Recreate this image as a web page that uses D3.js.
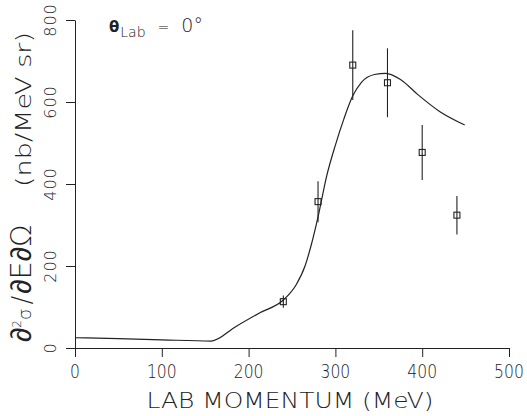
<!DOCTYPE html>
<html>
<head>
<meta charset="utf-8">
<script src="https://cdn.jsdelivr.net/npm/d3@7"></script>
<style>
  body { margin: 0; background: #fff; }
  svg { display: block; }
  text { font-family: "DejaVu Sans", sans-serif; font-weight: 200; fill: #222; }
</style>
</head>
<body>
<div id="chart"></div>
<script>
// measured points (lab momentum, cross section, error)
const momentum = [240, 280, 320, 360, 400, 440];
const xsec = [113, 357, 690, 647, 477, 324];
const xsecErr = [15, 50, 85, 84, 67, 47];

// theory curve
const curveP = [0, 50, 100, 157, 185, 213, 240, 255, 265, 272, 280, 290, 300, 310, 320, 330, 345, 358, 375, 395, 420, 449];
const curveV = [25, 23, 20, 17, 52, 86, 117, 155, 200, 250, 320, 420, 495, 560, 615, 648, 667, 670, 655, 618, 577, 544];

const xTicks = [0, 100, 200, 300, 400, 500];
const yTicks = [0, 200, 400, 600, 800];

const width = 527, height = 416;
const margin = ({top: 20, right: 18, bottom: 68, left: 75});
const ink = "#222";

const x = d3.scaleLinear()
    .domain([0, 500])
    .range([margin.left, width - margin.right]);

const y = d3.scaleLinear()
    .domain([0, 800])
    .range([height - margin.bottom, margin.top]);

const svg = d3.select("#chart").append("svg")
    .attr("width", width)
    .attr("height", height);

// x axis
const gx = svg.append("g")
    .attr("transform", `translate(0,${y(0)})`)
    .call(d3.axisBottom(x).tickValues(xTicks).tickSize(9).tickSizeOuter(0).tickFormat(""));
gx.selectAll("path, line").attr("stroke", ink);

// y axis
const gy = svg.append("g")
    .attr("transform", `translate(${x(0)},0)`)
    .call(d3.axisLeft(y).tickValues(yTicks).tickSize(9).tickSizeOuter(0).tickFormat(""));
gy.selectAll("path, line").attr("stroke", ink);

// tick labels
svg.append("g").selectAll("text")
    .data(xTicks)
    .join("text")
    .attr("x", d => x(d))
    .attr("y", y(0) + 30)
    .attr("text-anchor", "middle")
    .attr("font-size", 20)
    .attr("transform", d => `translate(${x(d)},0) scale(0.78,1) translate(${-x(d)},0)`)
    .text(d => d);

svg.append("g").selectAll("text")
    .data(yTicks)
    .join("text")
    .attr("transform", d => `translate(${x(0) - 19},${y(d)}) rotate(-90) scale(1,0.95)`)
    .attr("text-anchor", "middle")
    .attr("font-size", 16)
    .attr("letter-spacing", 1)
    .text(d => d);

// axis titles
svg.append("text")
    .attr("x", 290)
    .attr("y", 408)
    .attr("text-anchor", "middle")
    .attr("font-size", 22)
    .attr("textLength", 287)
    .attr("lengthAdjust", "spacingAndGlyphs")
    .text("LAB MOMENTUM  (MeV)");

const yl = svg.append("text")
    .attr("transform", "translate(31,342) rotate(-90)")
    .attr("text-anchor", "start");
yl.append("tspan").attr("font-size", 29).text("∂");
yl.append("tspan").attr("font-size", 12).attr("dy", -10).text("2");
yl.append("tspan").attr("font-size", 18).attr("dy", 10).text("σ");
yl.append("tspan").attr("font-size", 26).attr("dx", 4).text("/");
yl.append("tspan").attr("font-size", 29).attr("dx", 2).text("∂E∂Ω");

svg.append("text")
    .attr("transform", "translate(31,187) rotate(-90)")
    .attr("font-size", 21)
    .attr("textLength", 155)
    .attr("lengthAdjust", "spacingAndGlyphs")
    .text("(nb/MeV sr)");

// angle annotation
const t = svg.append("text")
    .attr("x", 109)
    .attr("y", 32);
t.append("tspan").attr("font-size", 15).attr("font-weight", "bold").text("θ");
t.append("tspan").attr("font-size", 14).attr("dy", 5).attr("dx", 1).text("Lab");
t.append("tspan").attr("font-size", 14).attr("dy", -5).attr("dx", 12).text("=");
t.append("tspan").attr("font-size", 19).attr("dx", 12).text("0°");

// theory line
const line = d3.line()
    .x(d => x(d[0]))
    .y(d => y(d[1]))
    .curve(d3.curveMonotoneX);

svg.append("path")
    .datum(d3.zip(curveP, curveV))
    .attr("fill", "none")
    .attr("stroke", ink)
    .attr("stroke-width", 1.2)
    .attr("d", line);

// data points with error bars
const pts = svg.append("g")
    .selectAll("g")
    .data(d3.range(momentum.length))
    .join("g");

pts.append("line")
    .attr("x1", i => x(momentum[i]))
    .attr("x2", i => x(momentum[i]))
    .attr("y1", i => y(xsec[i] - xsecErr[i]))
    .attr("y2", i => y(xsec[i] + xsecErr[i]))
    .attr("stroke", ink)
    .attr("stroke-width", 1.1);

pts.append("rect")
    .attr("x", i => x(momentum[i]) - 3)
    .attr("y", i => y(xsec[i]) - 3)
    .attr("width", 6)
    .attr("height", 6)
    .attr("fill", "none")
    .attr("stroke", ink)
    .attr("stroke-width", 1.1);
</script>
</body>
</html>
